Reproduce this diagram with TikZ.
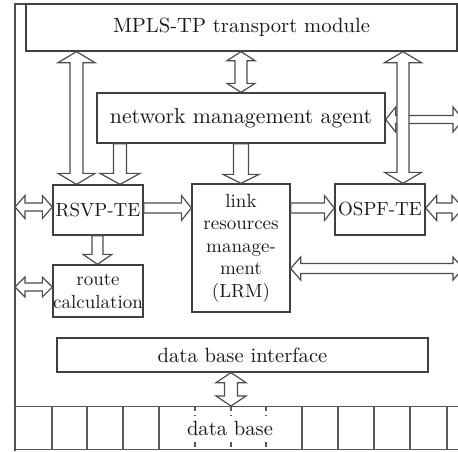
\documentclass[tikz,border=0pt]{standalone}
\usetikzlibrary{calc}

% Hollow block arrow with heads at both ends: from #1 to #2,
% half shaft width #3, half head width #4, head length #5 (all in pt).
\newcommand\twoway[5]{%
  \draw[blk] let \p1=(#1), \p2=(#2),
      \n1={veclen(\x2-\x1,\y2-\y1)}, \n2={(\x2-\x1)/\n1}, \n3={(\y2-\y1)/\n1},
      \n4={\n1-(#5)}
    in (\x1,\y1)
    -- ({\x1+(#5)*(\n2)-(#4)*(\n3)},{\y1+(#5)*(\n3)+(#4)*(\n2)})
    -- ({\x1+(#5)*(\n2)-(#3)*(\n3)},{\y1+(#5)*(\n3)+(#3)*(\n2)})
    -- ({\x1+(\n4)*(\n2)-(#3)*(\n3)},{\y1+(\n4)*(\n3)+(#3)*(\n2)})
    -- ({\x1+(\n4)*(\n2)-(#4)*(\n3)},{\y1+(\n4)*(\n3)+(#4)*(\n2)})
    -- (\x2,\y2)
    -- ({\x1+(\n4)*(\n2)+(#4)*(\n3)},{\y1+(\n4)*(\n3)-(#4)*(\n2)})
    -- ({\x1+(\n4)*(\n2)+(#3)*(\n3)},{\y1+(\n4)*(\n3)-(#3)*(\n2)})
    -- ({\x1+(#5)*(\n2)+(#3)*(\n3)},{\y1+(#5)*(\n3)-(#3)*(\n2)})
    -- ({\x1+(#5)*(\n2)+(#4)*(\n3)},{\y1+(#5)*(\n3)-(#4)*(\n2)})
    -- cycle;}

% Hollow block arrow with a single head at #2.
\newcommand\oneway[5]{%
  \draw[blk] let \p1=(#1), \p2=(#2),
      \n1={veclen(\x2-\x1,\y2-\y1)}, \n2={(\x2-\x1)/\n1}, \n3={(\y2-\y1)/\n1},
      \n4={\n1-(#5)}
    in ({\x1-(#3)*(\n3)},{\y1+(#3)*(\n2)})
    -- ({\x1+(\n4)*(\n2)-(#3)*(\n3)},{\y1+(\n4)*(\n3)+(#3)*(\n2)})
    -- ({\x1+(\n4)*(\n2)-(#4)*(\n3)},{\y1+(\n4)*(\n3)+(#4)*(\n2)})
    -- (\x2,\y2)
    -- ({\x1+(\n4)*(\n2)+(#4)*(\n3)},{\y1+(\n4)*(\n3)-(#4)*(\n2)})
    -- ({\x1+(\n4)*(\n2)+(#3)*(\n3)},{\y1+(\n4)*(\n3)-(#3)*(\n2)})
    -- ({\x1+(#3)*(\n3)},{\y1-(#3)*(\n2)})
    -- cycle;}

\begin{document}
\begin{tikzpicture}[x=0.5pt,y=-0.5pt,
  box/.style={draw=black!75, line width=0.65pt, inner sep=0pt, align=center,
    font=\fontsize{9.5}{11.3}\selectfont, text=black!90},
  bigtext/.style={font=\fontsize{10.3}{12}\selectfont},
  blk/.style={draw=black!70, fill=white, line width=0.6pt, line join=miter},
  frame/.style={draw=black!70, line width=0.65pt},
  cell/.style={draw=black!65, line width=0.55pt}]
\useasboundingbox (0,0) rectangle (458,451);
\clip (0,0) rectangle (458,451);

% outer frame
\draw[frame] (15,451) -- (15,4) -- (458,4);

% modules
\node[box, bigtext, minimum width=215.5pt, minimum height=23.5pt] (mpls) at (241.5,27.5) {MPLS-TP transport module};
\node[box, font=\fontsize{10.9}{12}\selectfont, minimum width=144pt, minimum height=25pt] (nma) at (241,118) {network management agent};
\node[box, minimum width=45pt, minimum height=25pt] (rsvp) at (98,210) {RSVP-TE};
\node[box, minimum width=45pt, minimum height=26pt] (route) at (98,291) {route\\calculation};
\node[box, minimum width=49pt, minimum height=64pt] (lrm) at (241,248) {link\\resources\\manage-\\ment\\(LRM)};
\node[box, minimum width=45pt, minimum height=25.5pt] (ospf) at (380,209.5) {OSPF-TE};
\node[box, bigtext, minimum width=185.5pt, minimum height=17pt] (dbi) at (242.5,355) {data base interface};

% data base row of cells
\node[cell, anchor=north west, inner sep=0pt, minimum width=232pt, minimum height=21.5pt] (dbrow) at (15,406) {};
\foreach \cx in {52,87,123,159,302,338,374,410,447}
  \draw[cell] (\cx,0 |- dbrow.north) -- (\cx,0 |- dbrow.south);
\foreach \cx in {195,231,266}
  \draw[cell, dash pattern=on 2.5pt off 2pt] (\cx,0 |- dbrow.north) -- (\cx,0 |- dbrow.south);
\node[font=\fontsize{10.3}{12}\selectfont, text=black!90, fill=white, inner xsep=1pt, inner ysep=2.5pt] (dbtext) at (230,428) {data base};

% free ends at the frame and the right border
\coordinate (nmaR) at (463,119.5);
\coordinate (rsvpL) at (15,207);
\coordinate (ospfR) at (463,208);
\coordinate (routeL) at (15,287);
\coordinate (lrmR) at (463,268.5);

% connectors
\twoway{76.5,0 |- mpls.south}{76.5,0 |- rsvp.north}{3.25}{9.25}{5.5}
\oneway{120,0 |- nma.south}{120,0 |- rsvp.north}{3.25}{10}{5.5}
\twoway{241,0 |- mpls.south}{241,0 |- nma.north}{3}{7}{4.5}
\oneway{241,0 |- nma.south}{241,0 |- lrm.north}{3.75}{9}{4.5}
\twoway{nma.east |- nmaR}{nmaR}{2}{6.25}{5}
\twoway{403,0 |- mpls.south}{403,0 |- ospf.north}{3}{9.25}{5.5}
\twoway{rsvpL}{rsvp.west |- rsvpL}{2}{5.75}{5}
\oneway{rsvp.east |- 0,208}{lrm.west |- 0,208}{2.5}{6.25}{5}
\oneway{lrm.east |- 0,208}{ospf.west |- 0,208}{2.5}{6.25}{5}
\twoway{ospf.east |- ospfR}{ospfR}{2.5}{6.25}{5.5}
\oneway{97.5,0 |- rsvp.south}{97.5,0 |- route.north}{2.75}{7.25}{5}
\twoway{routeL}{route.west |- routeL}{2}{5}{5}
\twoway{lrm.east |- lrmR}{lrmR}{2.5}{5.75}{5}
\twoway{231,0 |- dbi.south}{231,0 |- dbrow.north}{3.25}{7.5}{5}
\end{tikzpicture}
\end{document}
